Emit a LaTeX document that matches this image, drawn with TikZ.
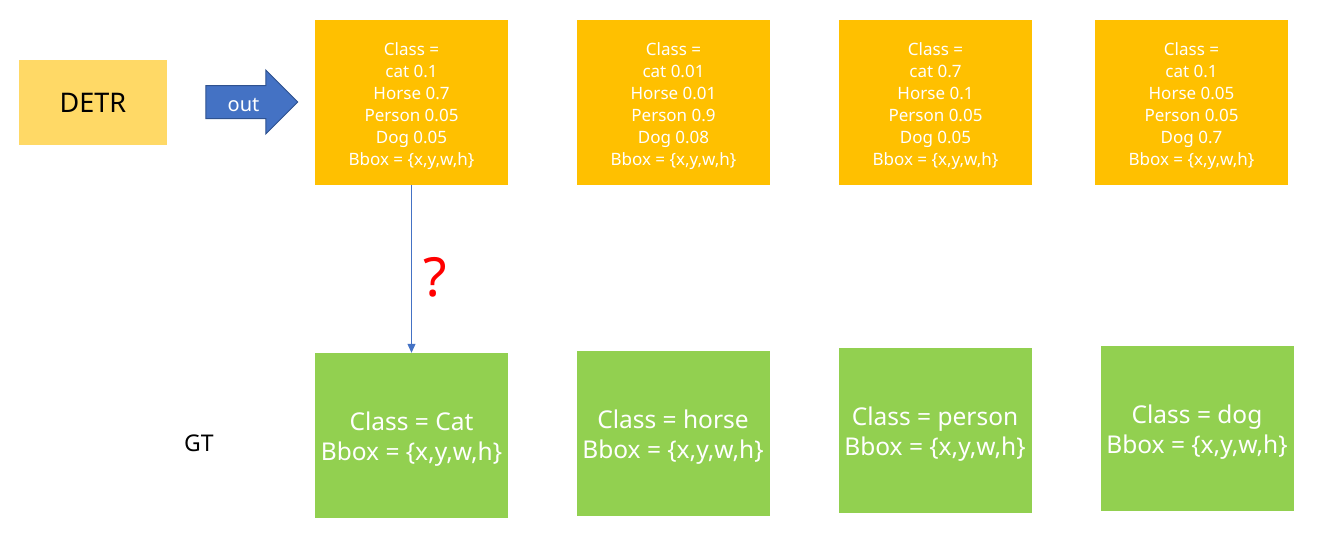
\documentclass[tikz,border=0pt]{standalone}
\usepackage{fontspec}
\setmainfont{Noto Sans}
\usetikzlibrary{arrows.meta,positioning,shapes.arrows}
\definecolor{detrgold}{HTML}{FFD966}
\definecolor{predorange}{HTML}{FFC000}
\definecolor{gtgreen}{HTML}{92D050}
\definecolor{outblue}{HTML}{4472C4}
\definecolor{outedge}{HTML}{2F528F}

\begin{document}
\begin{tikzpicture}[
    x=1pt, y=-1pt,
    model/.style={fill=detrgold, minimum width=148pt, minimum height=85pt, inner sep=0pt, font=\fontsize{27}{32}\selectfont},
    outarrow/.style={single arrow, fill=outblue, draw=outedge, line width=1pt, text=white, minimum height=92pt, minimum width=63pt, single arrow head extend=15.5pt, inner xsep=0pt, inner ysep=0pt, text height=25pt, text depth=7pt, font=\fontsize{20}{24}\selectfont},
    pred/.style={fill=predorange, minimum width=193pt, minimum height=165pt, inner sep=0pt},
    predtext/.style={text=white, align=center, inner sep=0pt, font=\fontsize{17}{22}\selectfont},
    gt/.style={fill=gtgreen, minimum width=193pt, minimum height=165pt, inner sep=0pt},
    gttext/.style={text=white, align=center, inner sep=0pt, font=\fontsize{24.5}{30}\selectfont},
    plain/.style={font=\fontsize{23}{28}\selectfont},
    qmark/.style={text=red, font=\fontsize{54}{60}\selectfont},
    arrow/.style={-{Triangle[width=8pt,length=9pt]}, draw=outblue, line width=1pt}
]
\useasboundingbox (0,0) rectangle (1317,535);
% model and its output
\node[model] (detr) at (93,102.5) {DETR};
\node[outarrow] (out) at (243.5,102) {out};
% predictions
\node[pred] (p1) at (411.5,102.5) {};
\node[pred] (p2) at (673.5,102.5) {};
\node[pred] (p3) at (935.5,102.5) {};
\node[pred] (p4) at (1191.5,102.5) {};
\node[predtext] (p1t) at ([yshift=-4pt]p1.center) {Class =\\cat 0.1\\Horse 0.7\\Person 0.05\\Dog 0.05\\Bbox = \{x,y,w,h\}};
\node[predtext] (p2t) at ([yshift=-4pt]p2.center) {Class =\\cat 0.01\\Horse 0.01\\Person 0.9\\Dog 0.08\\Bbox = \{x,y,w,h\}};
\node[predtext] (p3t) at ([yshift=-4pt]p3.center) {Class =\\cat 0.7\\Horse 0.1\\Person 0.05\\Dog 0.05\\Bbox = \{x,y,w,h\}};
\node[predtext] (p4t) at ([yshift=-4pt]p4.center) {Class =\\cat 0.1\\Horse 0.05\\Person 0.05\\Dog 0.7\\Bbox = \{x,y,w,h\}};
% ground truth
\node[plain] (gtlabel) at (199,443) {GT};
\node[gt] (g1) at (411.5,435.5) {};
\node[gt] (g2) at (673,433.5) {};
\node[gt] (g3) at (935,430.5) {};
\node[gt] (g4) at (1197,428.5) {};
\node[gttext] (g1t) at ([yshift=-4pt]g1.center) {Class = Cat\\Bbox = \{x,y,w,h\}};
\node[gttext] (g2t) at ([yshift=-4pt]g2.center) {Class = horse\\Bbox = \{x,y,w,h\}};
\node[gttext] (g3t) at ([yshift=-4pt]g3.center) {Class = person\\Bbox = \{x,y,w,h\}};
\node[gttext] (g4t) at ([yshift=-4pt]g4.center) {Class = dog\\Bbox = \{x,y,w,h\}};
\draw[arrow] (p1) -- node[qmark, right=8pt, pos=0.55] (q) {?} (g1);
\end{tikzpicture}
\end{document}
